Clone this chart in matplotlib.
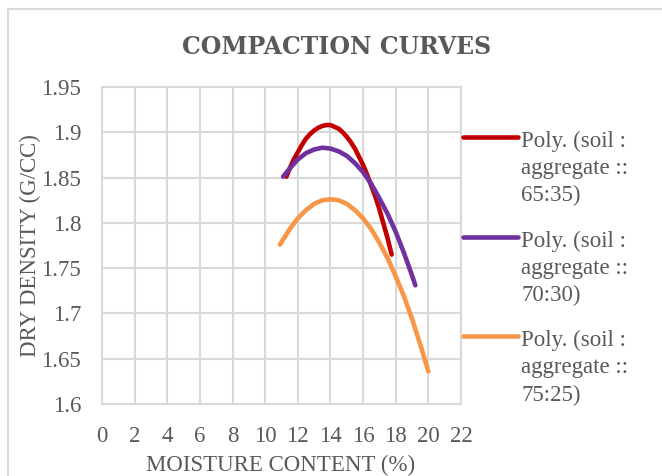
import matplotlib
matplotlib.use('Agg')
import matplotlib.pyplot as plt
import numpy as np
from matplotlib.patches import Rectangle
from matplotlib.legend_handler import HandlerLine2D

plt.rcParams['font.family'] = ['Liberation Serif', 'DejaVu Serif']

# curves (moisture %, dry density g/cc)
x_6535 = [11.3, 11.5, 11.75, 12.0, 12.25, 12.5, 12.75, 13.0, 13.25, 13.5, 13.75, 14.0, 14.25, 14.5,
          14.75, 15.0, 15.25, 15.5, 15.75, 16.0, 16.25, 16.5, 16.75, 17.0, 17.25, 17.5, 17.75]
y_6535 = [1.851, 1.860, 1.870, 1.878, 1.886, 1.893, 1.898, 1.902, 1.905, 1.907, 1.908, 1.908, 1.906, 1.904,
          1.900, 1.895, 1.889, 1.882, 1.873, 1.864, 1.853, 1.841, 1.829, 1.815, 1.799, 1.783, 1.765]

x_7030 = [11.1, 11.5, 12.0, 12.5, 13.0, 13.5, 14.0, 14.5, 15.0, 15.5, 16.0, 16.5, 17.0, 17.5, 18.0, 18.5, 19.0, 19.2]
y_7030 = [1.851, 1.860, 1.870, 1.877, 1.881, 1.883, 1.882, 1.879, 1.874, 1.866, 1.856, 1.843, 1.827, 1.810, 1.790, 1.767, 1.742, 1.731]

x_7525 = [10.9, 11.5, 12.0, 12.5, 13.0, 13.5, 14.0, 14.5, 15.0, 15.5, 16.0, 16.5, 17.0, 17.5, 18.0, 18.5, 19.0, 19.5, 20.0]
y_7525 = [1.776, 1.793, 1.805, 1.814, 1.821, 1.825, 1.826, 1.825, 1.821, 1.814, 1.805, 1.793, 1.778, 1.761, 1.741, 1.719, 1.694, 1.666, 1.636]

labels = ['Poly. (soil :\naggregate ::\n65:35)',
          'Poly. (soil :\naggregate ::\n70:30)',
          'Poly. (soil :\naggregate ::\n75:25)']
colors = ['#C00000', '#7030A0', '#F79646']

xticks = list(range(0, 23, 2))
yticks = [1.6, 1.65, 1.7, 1.75, 1.8, 1.85, 1.9, 1.95]
ytick_labels = ['1.6', '1.65', '1.7', '1.75', '1.8', '1.85', '1.9', '1.95']

txt = '#595959'
grid = '#D9D9D9'
fs = 16.5
linesp = 1.38


class TopLineHandler(HandlerLine2D):
    # put the legend line next to the first text line, like Excel does
    def create_artists(self, legend, orig_handle, xdescent, ydescent, width, height, fontsize, trans):
        arts = super().create_artists(legend, orig_handle, xdescent, ydescent, width, height, fontsize, trans)
        for a in arts:
            a.set_ydata(np.asarray(a.get_ydata()) + fontsize * linesp)
        return arts


fig = plt.figure(figsize=(6.62, 4.76), dpi=100)
# outer chart border (cropped on right/bottom)
fig.patches.append(Rectangle((8/662, -0.1), 1.2, (476-9)/476 + 0.1, transform=fig.transFigure,
                             fill=False, edgecolor=grid, linewidth=1.5))

ax = fig.add_axes([102/662, (476-404)/476, (461-102)/662, (404-87)/476])

for xs, ys, lab, c in zip([x_6535, x_7030, x_7525], [y_6535, y_7030, y_7525], labels, colors):
    ax.plot(xs, ys, color=c, linewidth=3.3, solid_capstyle='round', solid_joinstyle='round', label=lab)

ax.set_xlim(0, 22)
ax.set_ylim(1.6, 1.95)
ax.set_xticks(xticks)
ax.set_yticks(yticks)
ax.set_yticklabels(ytick_labels)
ax.grid(True, color=grid, linewidth=1.5)
ax.set_axisbelow(True)
for s in ax.spines.values():
    s.set_color(grid)
    s.set_linewidth(1.5)
ax.tick_params(length=0, labelsize=fs, colors=txt)
ax.tick_params(axis='x', pad=16)
ax.tick_params(axis='y', pad=15)

ax.set_xlabel('MOISTURE CONTENT (%)', fontsize=fs, color=txt)
ax.xaxis.set_label_coords(0.496, -0.16)
ax.set_ylabel('DRY DENSITY (G/CC)', fontsize=fs, color=txt)
ax.yaxis.set_label_coords(-0.17, 0.5)

fig.text(337/662, 1 - 47/476, 'COMPACTION CURVES', ha='center', va='center',
         fontsize=17, fontweight='bold', color=txt, family='DejaVu Serif')

leg = ax.legend(loc='upper left', bbox_to_anchor=(1.005, 0.862), frameon=False,
                fontsize=fs, handlelength=2.4, handletextpad=0.15, labelspacing=1.05,
                borderaxespad=0.0, borderpad=0.0,
                handler_map={plt.Line2D: TopLineHandler()})
for t in leg.get_texts():
    t.set_color(txt)
    t.set_linespacing(linesp)

fig.savefig('out.png', dpi=100)
